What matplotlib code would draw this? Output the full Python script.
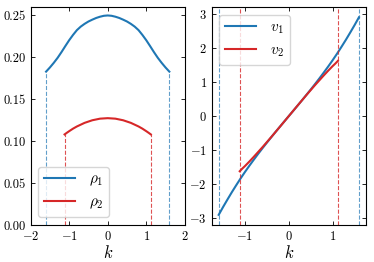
import numpy as np
import matplotlib
matplotlib.use("Agg")
import matplotlib.pyplot as plt

plt.rcParams['font.family'] = 'serif'
plt.rcParams['font.serif'] = ['cmr10']
plt.rcParams['mathtext.fontset'] = 'cm'
plt.rcParams['axes.formatter.use_mathtext'] = True
plt.rcParams['xtick.direction'] = 'in'
plt.rcParams['ytick.direction'] = 'in'
plt.rcParams['xtick.top'] = True
plt.rcParams['ytick.right'] = True

# densities (symmetric in k)
k1_half = [0.0, 0.1, 0.2, 0.3, 0.4, 0.5, 0.6, 0.7, 0.8,
           0.9, 1.0, 1.1, 1.2, 1.3, 1.4, 1.5, 1.6]
rho1_half = [0.2500, 0.2496, 0.2485, 0.2470, 0.2450, 0.2428, 0.2400, 0.2367, 0.2325,
             0.2268, 0.2205, 0.2135, 0.2063, 0.1995, 0.1935, 0.1880, 0.1830]
k2_half = [0.0, 0.2, 0.4, 0.6, 0.8, 0.9, 1.0, 1.06, 1.12]
rho2_half = [0.1275, 0.1269, 0.1250, 0.1219, 0.1176, 0.1150, 0.1120, 0.1101, 0.1081]

# velocities (odd in k)
v1_half = [0.0, 0.153, 0.307, 0.462, 0.620, 0.780, 0.943, 1.110, 1.282,
           1.458, 1.640, 1.830, 2.030, 2.235, 2.450, 2.670, 2.900]
v2_half = [0.0, 0.309, 0.615, 0.912, 1.197, 1.335, 1.467, 1.540, 1.620]

kmax1 = 1.6
kmax2 = 1.12

blue = '#1f77b4'
red = '#d62728'


def mirror(k, y, odd=False):
    k = np.array(k)
    y = np.array(y)
    sign = -1 if odd else 1
    return np.concatenate([-k[:0:-1], k]), np.concatenate([sign * y[:0:-1], y])


fig = plt.figure(figsize=(3.74, 2.62), dpi=100)
ax1 = fig.add_axes([0.082, 0.141, 0.412, 0.832])
ax2 = fig.add_axes([0.566, 0.141, 0.4125, 0.832])

# left: densities
k, r = mirror(k1_half, rho1_half)
ax1.plot(k, r, color=blue, lw=1.5, label=r'$\rho_1$')
k, r = mirror(k2_half, rho2_half)
ax1.plot(k, r, color=red, lw=1.5, label=r'$\rho_2$')
for s in (-1, 1):
    ax1.plot([s * kmax1, s * kmax1], [0, rho1_half[-1]], '--', color=blue, lw=0.8, alpha=0.7)
    ax1.plot([s * kmax2, s * kmax2], [0, rho2_half[-1]], '--', color=red, lw=0.8, alpha=0.8)
ax1.set_xlim(-2, 2)
ax1.set_ylim(0, 0.26)
ax1.set_xticks([-2, -1, 0, 1, 2])
ax1.set_yticks([0, 0.05, 0.10, 0.15, 0.20, 0.25])
ax1.set_yticklabels(['0.00', '0.05', '0.10', '0.15', '0.20', '0.25'])
ax1.set_xlabel(r'$k$', fontsize=12, labelpad=1)
ax1.legend(loc='lower left', fontsize=11, handletextpad=0.9)

# right: velocities
k, v = mirror(k1_half, v1_half, odd=True)
ax2.plot(k, v, color=blue, lw=1.5, label=r'$v_1$')
k, v = mirror(k2_half, v2_half, odd=True)
ax2.plot(k, v, color=red, lw=1.5, label=r'$v_2$')
for s in (-1, 1):
    ax2.axvline(s * kmax1, ls='--', color=blue, lw=0.8, alpha=0.7)
    ax2.axvline(s * kmax2, ls='--', color=red, lw=0.8, alpha=0.8)
ax2.set_xlim(-1.76, 1.76)
ax2.set_ylim(-3.2, 3.2)
ax2.set_xticks([-1, 0, 1])
ax2.set_yticks([-3, -2, -1, 0, 1, 2, 3])
ax2.set_xlabel(r'$k$', fontsize=12, labelpad=1)
ax2.legend(loc='upper left', fontsize=11, handletextpad=0.9)

for ax in (ax1, ax2):
    ax.tick_params(labelsize=9, length=3, width=0.6)

plt.savefig('out.png', dpi=100)
